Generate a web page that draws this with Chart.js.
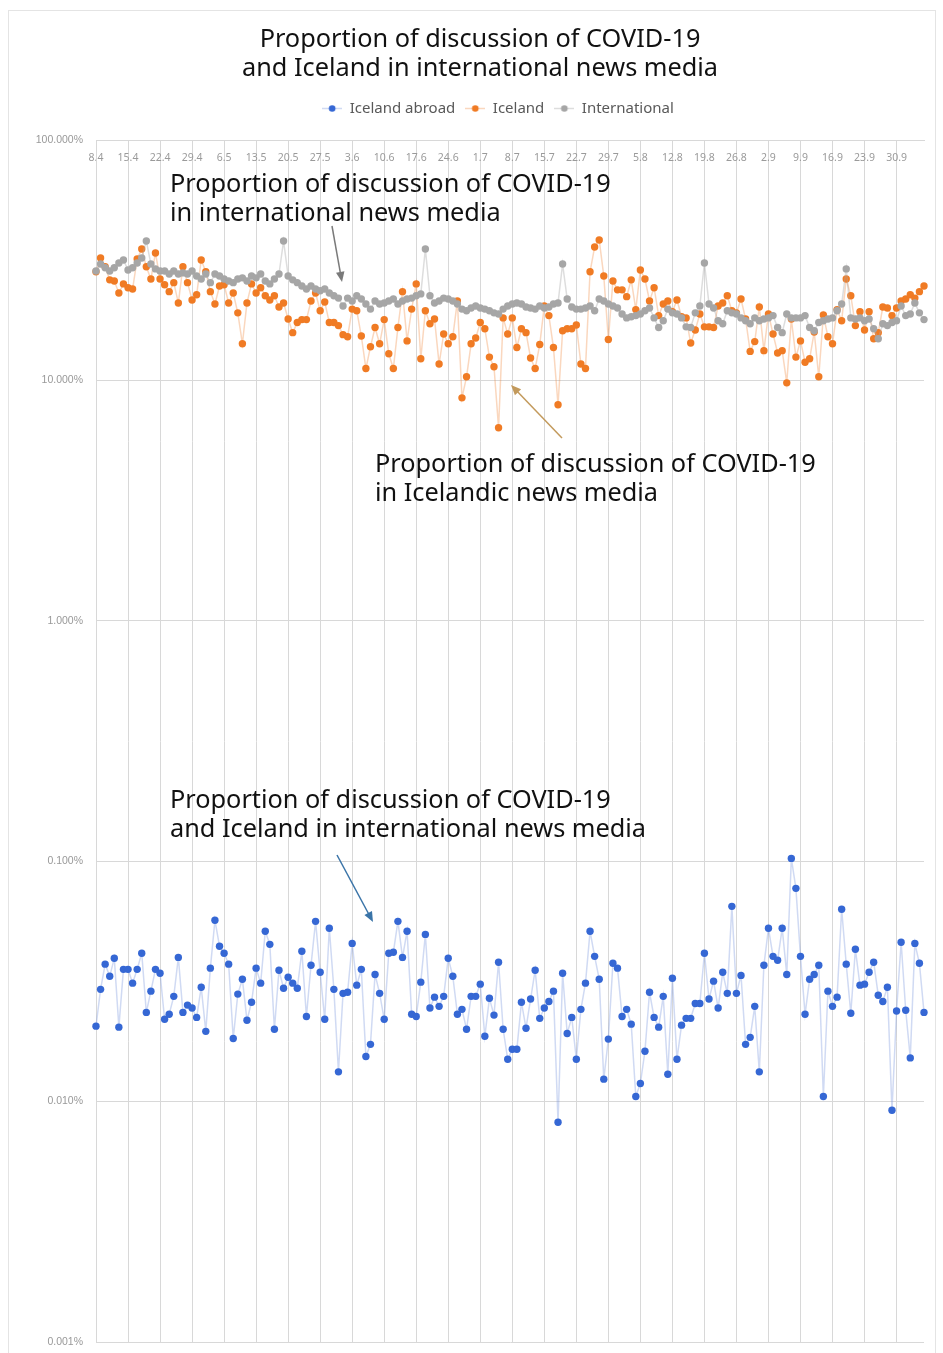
<!DOCTYPE html>
<html lang="en">
<head>
<meta charset="UTF-8">
<title>Proportion of discussion of COVID-19</title>
<style>
    body {
        margin: 0;
        background-color: #ffffff;
    }
    .chart-wrap {
        width: 943px;
        height: 1353px;
    }
</style>
</head>
<body>
<div class="chart-wrap"><canvas id="covidChart" width="943" height="1353"></canvas></div>

<script src="https://cdn.jsdelivr.net/npm/chart.js"></script>
<script>
// daily categories, 8 April to 6 October (day.month)
const monthLengths = { 4: 30, 5: 31, 6: 30, 7: 31, 8: 31, 9: 30, 10: 31 };
const categories = [];
let day = 8, month = 4;
for (let i = 0; i < 182; i++) {
    categories.push(day + '.' + month);
    day++;
    if (day > monthLengths[month]) { day = 1; month++; }
}

// every 7th day carries a label and a grid line
const weekLabels = ['8.4', '15.4', '22.4', '29.4', '6.5', '13.5', '20.5', '27.5', '3.6', '10.6',
    '17.6', '24.6', '1.7', '8.7', '15.7', '22.7', '29.7', '5.8', '12.8', '19.8', '26.8', '2.9',
    '9.9', '16.9', '23.9', '30.9'];

const yTicks = [100, 10, 1, 0.1, 0.01, 0.001];

// values in percent
const icelandAbroad = [
    0.0206, 0.0293, 0.0373, 0.0332, 0.0395, 0.0204, 0.0355, 0.0355, 0.0311, 0.0355,
    0.0414, 0.0235, 0.0288, 0.0355, 0.0342, 0.0220, 0.0231, 0.0274, 0.0398, 0.0235,
    0.0252, 0.0245, 0.0224, 0.0299, 0.0196, 0.0359, 0.0568, 0.0443, 0.0414, 0.0373,
    0.0183, 0.0280, 0.0323, 0.0218, 0.0259, 0.0359, 0.0311, 0.0511, 0.0451, 0.0200,
    0.0352, 0.0296, 0.0329, 0.0311, 0.0296, 0.0422, 0.0226, 0.0369, 0.0562, 0.0345,
    0.0220, 0.0526, 0.0293, 0.0133, 0.0282, 0.0285, 0.0455, 0.0305, 0.0355, 0.0154,
    0.0173, 0.0338, 0.0282, 0.0220, 0.0414, 0.0418, 0.0562, 0.0398, 0.0511, 0.0231,
    0.0226, 0.0314, 0.0496, 0.0245, 0.0272, 0.0249, 0.0274, 0.0395, 0.0332, 0.0231,
    0.0242, 0.0200, 0.0274, 0.0274, 0.0308, 0.0187, 0.0269, 0.0229, 0.0380, 0.0200,
    0.0150, 0.0165, 0.0165, 0.0259, 0.0202, 0.0267, 0.0352, 0.0222, 0.0245, 0.0261,
    0.0288, 0.0082, 0.0342, 0.0192, 0.0224, 0.0150, 0.0242, 0.0311, 0.0511, 0.0402,
    0.0323, 0.0124, 0.0182, 0.0376, 0.0359, 0.0226, 0.0242, 0.0210, 0.0105, 0.0119,
    0.0162, 0.0285, 0.0224, 0.0204, 0.0274, 0.0130, 0.0326, 0.0150, 0.0208, 0.0222,
    0.0222, 0.0256, 0.0256, 0.0414, 0.0267, 0.0317, 0.0245, 0.0345, 0.0282, 0.0649,
    0.0282, 0.0335, 0.0173, 0.0185, 0.0249, 0.0133, 0.0369, 0.0526, 0.0402, 0.0387,
    0.0526, 0.0338, 0.1027, 0.0771, 0.0402, 0.0231, 0.0323, 0.0338, 0.0369, 0.0105,
    0.0288, 0.0249, 0.0272, 0.0631, 0.0373, 0.0233, 0.0430, 0.0305, 0.0308, 0.0345,
    0.0380, 0.0277, 0.0261, 0.0299, 0.0092, 0.0238, 0.0460, 0.0240, 0.0152, 0.0455,
    0.0376, 0.0235
];

const iceland = [
    28.3, 32.3, 29.7, 26.2, 25.9, 23.1, 25.2, 24.3, 24.0, 32.0,
    35.2, 29.7, 26.4, 33.9, 26.4, 25.0, 23.4, 25.5, 21.0, 29.7,
    25.5, 21.6, 22.7, 31.7, 28.3, 23.4, 20.8, 24.7, 25.0, 21.0,
    23.1, 19.1, 14.2, 21.0, 25.2, 23.1, 24.3, 22.5, 21.6, 22.5,
    20.2, 21.0, 18.0, 15.8, 17.4, 17.9, 17.9, 21.4, 23.1, 19.5,
    21.2, 17.4, 17.4, 16.9, 15.5, 15.2, 19.8, 19.5, 15.3, 11.2,
    13.8, 16.6, 14.2, 17.9, 12.9, 11.2, 16.6, 23.4, 14.6, 19.8,
    25.2, 12.3, 19.5, 17.2, 18.0, 11.7, 15.6, 14.2, 15.2, 21.4,
    8.46, 10.35, 14.2, 15.0, 17.4, 16.4, 12.5, 11.4, 6.35, 18.2,
    15.6, 18.2, 13.7, 16.4, 15.8, 12.4, 11.2, 14.1, 20.4, 18.6,
    13.7, 7.92, 16.1, 16.4, 16.4, 17.0, 11.7, 11.2, 28.3, 35.9,
    38.4, 27.2, 14.8, 25.9, 23.8, 23.8, 22.3, 26.2, 19.7, 28.8,
    26.4, 21.4, 24.3, 18.6, 20.8, 21.4, 19.3, 21.6, 18.4, 18.2,
    14.3, 16.2, 18.9, 16.7, 16.7, 16.6, 20.4, 21.0, 22.5, 19.5,
    19.1, 21.8, 18.0, 13.2, 14.5, 20.2, 13.3, 18.9, 15.6, 13.0,
    13.3, 9.77, 18.0, 12.5, 14.6, 11.9, 12.3, 15.9, 10.35, 18.7,
    15.2, 14.2, 19.7, 17.7, 26.4, 22.5, 16.9, 19.3, 16.2, 19.3,
    14.9, 15.8, 20.2, 20.0, 18.6, 20.0, 21.4, 21.8, 22.7, 22.0,
    23.4, 24.7
];

const international = [
    28.5, 30.5, 29.4, 28.5, 29.4, 30.8, 31.7, 28.8, 29.4, 30.8,
    32.3, 38.0, 30.5, 29.1, 28.5, 28.5, 27.7, 28.5, 27.7, 28.0,
    27.7, 28.5, 27.2, 26.4, 27.7, 25.5, 27.7, 27.2, 26.4, 25.9,
    25.5, 26.4, 26.7, 25.9, 27.2, 26.7, 27.7, 25.9, 25.2, 26.4,
    27.7, 38.0, 27.2, 26.2, 25.5, 24.7, 24.0, 24.7, 24.0, 23.6,
    24.0, 23.1, 22.5, 22.0, 20.4, 22.0, 21.4, 22.5, 21.8, 20.8,
    19.8, 21.4, 20.8, 21.0, 21.4, 21.8, 20.8, 21.4, 21.8, 22.0,
    22.5, 22.9, 35.2, 22.5, 21.0, 21.4, 22.0, 21.8, 21.4, 20.8,
    19.8, 19.5, 20.0, 20.4, 20.0, 19.8, 19.5, 19.1, 18.9, 19.8,
    20.4, 20.8, 21.0, 20.8, 20.2, 20.0, 19.8, 20.4, 20.0, 20.2,
    20.8, 21.0, 30.5, 21.8, 20.2, 19.8, 19.8, 20.0, 20.4, 19.5,
    21.8, 21.4, 20.8, 20.4, 20.0, 18.9, 18.2, 18.4, 18.6, 18.9,
    19.5, 20.0, 18.2, 16.6, 17.7, 19.8, 19.1, 18.9, 18.2, 16.7,
    16.6, 19.1, 20.4, 30.8, 20.8, 20.0, 17.7, 17.2, 19.5, 19.1,
    18.9, 18.2, 17.7, 17.2, 18.2, 17.7, 18.0, 18.2, 18.6, 16.6,
    15.8, 18.9, 18.2, 18.2, 18.2, 18.6, 16.6, 16.1, 17.4, 17.7,
    18.0, 18.2, 19.5, 20.8, 29.1, 18.2, 18.0, 18.2, 17.7, 18.0,
    16.4, 14.9, 17.2, 16.9, 17.4, 17.7, 20.4, 18.6, 18.9, 21.0,
    19.1, 17.9
];

const seriesNames = ['Iceland abroad', 'Iceland', 'International'];
const dotColors = ['#3567d4', '#f07b24', '#a6a6a6'];
const lineColors = ['rgba(120,150,220,0.35)', 'rgba(240,140,70,0.35)', 'rgba(170,170,170,0.4)'];

const textFont = '"Noto Sans", sans-serif';

// legend marker: short line with a dot
function makeMarker(dot, line) {
    const c = document.createElement('canvas');
    c.width = 20;
    c.height = 9;
    const g = c.getContext('2d');
    g.strokeStyle = line;
    g.lineWidth = 1.5;
    g.beginPath();
    g.moveTo(0, 4.5);
    g.lineTo(20, 4.5);
    g.stroke();
    g.fillStyle = dot;
    g.beginPath();
    g.arc(10, 4.5, 3.3, 0, Math.PI * 2);
    g.fill();
    return c;
}
const markers = dotColors.map((c, i) => makeMarker(c, lineColors[i]));

// titles, call-out texts and arrows
const notes = [
    { lines: ['Proportion of discussion of COVID-19', 'and Iceland in international news media'], x: 480, y: 40, align: 'center' },
    { lines: ['Proportion of discussion of COVID-19', 'in international news media'], x: 170, y: 185, align: 'left' },
    { lines: ['Proportion of discussion of COVID-19', 'in Icelandic news media'], x: 375, y: 465, align: 'left' },
    { lines: ['Proportion of discussion of COVID-19', 'and Iceland in international news media'], x: 170, y: 801, align: 'left' }
];
const arrows = [
    { from: [332, 226], to: [342, 282], color: '#7a7a7a' },
    { from: [562, 438], to: [511, 385], color: '#c39a5c' },
    { from: [337, 855], to: [373, 922], color: '#3a74a8' }
];

const notesPlugin = {
    id: 'notes',
    afterLayout(chart) {
        // Excel centres the legend a little right of the page centre
        chart.legend.left += 32;
        chart.legend.right += 32;
    },
    beforeDraw(chart) {
        const ctx = chart.ctx;
        ctx.save();
        ctx.fillStyle = '#ffffff';
        ctx.fillRect(0, 0, chart.width, chart.height);
        ctx.strokeStyle = '#e4e4e4';
        ctx.lineWidth = 1;
        ctx.strokeRect(8.5, 10.5, 927, 1350);
        ctx.restore();
    },
    afterDraw(chart) {
        const ctx = chart.ctx;
        ctx.save();
        ctx.fillStyle = '#111111';
        ctx.font = '25.3px ' + textFont;
        ctx.textBaseline = 'middle';
        notes.forEach(n => {
            ctx.textAlign = n.align;
            n.lines.forEach((t, k) => ctx.fillText(t, n.x, n.y + k * 28.5));
        });
        arrows.forEach(a => {
            const [x1, y1] = a.from;
            const [x2, y2] = a.to;
            const ang = Math.atan2(y2 - y1, x2 - x1);
            const head = 11;
            ctx.strokeStyle = a.color;
            ctx.fillStyle = a.color;
            ctx.lineWidth = 1.5;
            ctx.beginPath();
            ctx.moveTo(x1, y1);
            ctx.lineTo(x2 - Math.cos(ang) * head * 0.8, y2 - Math.sin(ang) * head * 0.8);
            ctx.stroke();
            ctx.beginPath();
            ctx.moveTo(x2, y2);
            ctx.lineTo(x2 - head * Math.cos(ang - 0.4), y2 - head * Math.sin(ang - 0.4));
            ctx.lineTo(x2 - head * Math.cos(ang + 0.4), y2 - head * Math.sin(ang + 0.4));
            ctx.closePath();
            ctx.fill();
        });
        ctx.restore();
    }
};

function makeDataset(i, values, order) {
    return {
        label: seriesNames[i],
        data: values,
        borderColor: lineColors[i],
        borderWidth: 1.5,
        pointRadius: 3.7,
        pointHoverRadius: 4,
        pointBackgroundColor: dotColors[i],
        pointBorderWidth: 0,
        tension: 0,
        order: order,
        clip: false
    };
}

new Chart(document.getElementById('covidChart'), {
    type: 'line',
    data: {
        labels: categories,
        datasets: [
            makeDataset(0, icelandAbroad, 3),
            makeDataset(1, iceland, 2),
            makeDataset(2, international, 1)
        ]
    },
    options: {
        responsive: false,
        animation: false,
        events: [],
        layout: {
            padding: { top: 91, left: 8, right: 19, bottom: 11 }
        },
        plugins: {
            title: { display: false },
            tooltip: { enabled: false },
            legend: {
                position: 'top',
                labels: {
                    usePointStyle: true,
                    pointStyleWidth: 20,
                    padding: 10,
                    color: '#595959',
                    font: { family: textFont, size: 15 },
                    generateLabels: chart => chart.data.datasets.map((ds, i) => ({
                        text: ds.label,
                        fillStyle: dotColors[i],
                        strokeStyle: dotColors[i],
                        lineWidth: 0,
                        pointStyle: markers[i],
                        hidden: false,
                        datasetIndex: i,
                        fontColor: '#595959'
                    }))
                }
            }
        },
        scales: {
            x: {
                type: 'category',
                position: 'top',
                offset: false,
                afterFit: scale => { scale.height = 14; },
                grid: {
                    drawTicks: false,
                    lineWidth: 1,
                    color: ctx => (ctx.index % 7 === 0 ? '#d8d8d8' : 'rgba(0,0,0,0)')
                },
                border: { display: true, color: '#d8d8d8' },
                ticks: {
                    autoSkip: false,
                    maxRotation: 0,
                    minRotation: 0,
                    mirror: true,
                    padding: 12,
                    color: '#9a9a9a',
                    font: { family: textFont, size: 10.5 },
                    callback: (val, index) => (index % 7 === 0 ? weekLabels[index / 7] : '')
                }
            },
            y: {
                type: 'logarithmic',
                min: 0.001,
                max: 100,
                afterBuildTicks: scale => { scale.ticks = yTicks.map(v => ({ value: v })); },
                afterFit: scale => {
                    scale.width = 88;
                    scale.paddingTop = 0;
                    scale.paddingBottom = 0;
                },
                grid: { drawTicks: false, color: '#d8d8d8', lineWidth: 1 },
                border: { display: true, color: '#d8d8d8' },
                ticks: {
                    padding: 13,
                    color: '#999999',
                    font: { family: '"Liberation Sans", sans-serif', size: 10.5 },
                    callback: v => Number(v).toFixed(3) + '%'
                }
            }
        }
    },
    plugins: [notesPlugin]
});
</script>
</body>
</html>
